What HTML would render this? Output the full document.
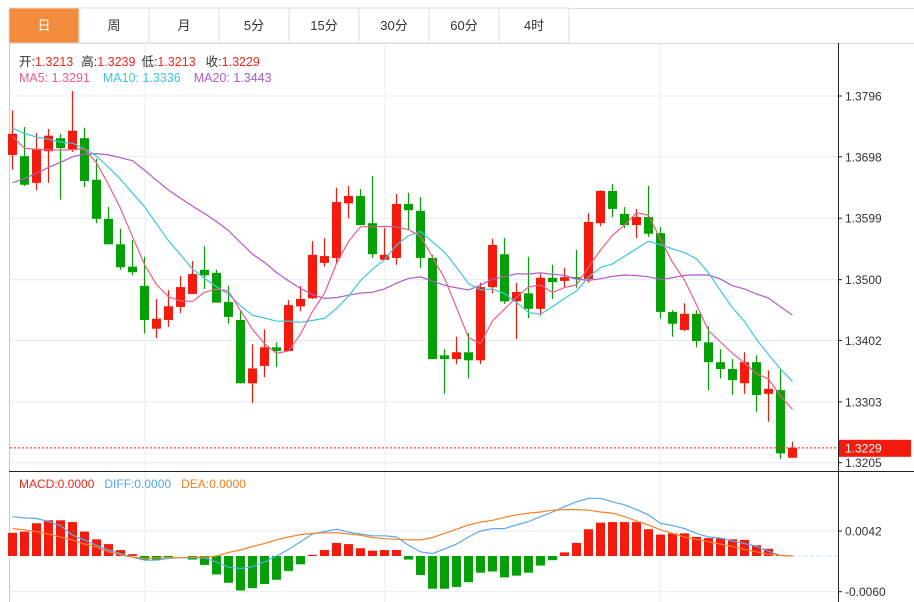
<!DOCTYPE html>
<html><head><meta charset="utf-8">
<style>
html,body{margin:0;padding:0;background:#fff;width:914px;height:602px;overflow:hidden;font-family:"Liberation Sans","Noto Sans CJK SC",sans-serif;}
svg text{font-family:"Liberation Sans","Noto Sans CJK SC",sans-serif;}
</style></head>
<body>
<svg id="chart" width="914" height="602" xmlns="http://www.w3.org/2000/svg">
  <g id="tabs"></g>
  <g id="grid"></g>
  <g id="macdg"></g>
  <g id="candles"></g>
  <g id="mas"></g>
  <g id="axis"></g>
  <g id="legend">
    <text x="19" y="66" font-size="12.5"><tspan fill="#333">开:</tspan><tspan fill="#f0261b">1.3213</tspan><tspan fill="#333" dx="8">高:</tspan><tspan fill="#f0261b">1.3239</tspan><tspan fill="#333" dx="6">低:</tspan><tspan fill="#f0261b">1.3213</tspan><tspan fill="#333" dx="10">收:</tspan><tspan fill="#f0261b">1.3229</tspan></text>
    <text x="19" y="82" font-size="12.5"><tspan fill="#ec5b8a">MA5: 1.3291</tspan><tspan fill="#3ec5dc" dx="13">MA10: 1.3336</tspan><tspan fill="#b35ac8" dx="13">MA20: 1.3443</tspan></text>
    <text x="19" y="488" font-size="12"><tspan fill="#f0261b">MACD:0.0000</tspan><tspan fill="#4ea6ee" dx="10">DIFF:0.0000</tspan><tspan fill="#f57c1f" dx="10">DEA:0.0000</tspan></text>
  </g>
</svg>
<script>
const tabLabels=["日","周","月","5分","15分","30分","60分","4时"];
const priceTicks=[1.3796,1.3698,1.3599,1.3500,1.3402,1.3303,1.3205];
const macdTicks=[0.0042,-0.0060];
const prevCloses=[1.3520,1.3535,1.3550,1.3545,1.3560,1.3575,1.3580,1.3600,1.3610,1.3608,1.3740,1.3765,1.3770,1.3755,1.3760,1.3745,1.3720,1.3735,1.3716];
const opens=[1.3701,1.3699,1.3656,1.3707,1.3728,1.3709,1.3728,1.3661,1.3598,1.3557,1.3521,1.3490,1.3421,1.3435,1.3456,1.3477,1.3516,1.3511,1.3464,1.3435,1.3333,1.3361,1.3391,1.3385,1.3457,1.3470,1.3527,1.3535,1.3623,1.3635,1.3591,1.3532,1.3535,1.3622,1.3611,1.3535,1.3378,1.3372,1.3383,1.3370,1.3488,1.3541,1.3465,1.3478,1.3453,1.3503,1.3498,1.3504,1.3501,1.3591,1.3643,1.3606,1.3588,1.3601,1.3575,1.3448,1.3419,1.3445,1.3399,1.3367,1.3356,1.3333,1.3367,1.3316,1.3322,1.3213];
const highs=[1.3773,1.3746,1.3736,1.3743,1.3735,1.3804,1.3745,1.3695,1.3617,1.3582,1.3564,1.3537,1.3469,1.3483,1.3506,1.3530,1.3554,1.3516,1.3490,1.3451,1.3396,1.3420,1.3399,1.3467,1.3490,1.3562,1.3567,1.3648,1.3651,1.3646,1.3667,1.3583,1.3638,1.3640,1.3633,1.3540,1.3388,1.3408,1.3414,1.3495,1.3566,1.3567,1.3495,1.3537,1.3509,1.3524,1.3519,1.3548,1.3607,1.3644,1.3654,1.3617,1.3614,1.3651,1.3585,1.3451,1.3462,1.3451,1.3425,1.3388,1.3372,1.3383,1.3378,1.3354,1.3356,1.3239];
const lows=[1.3677,1.3651,1.3644,1.3656,1.3629,1.3706,1.3649,1.3591,1.3557,1.3516,1.3507,1.3413,1.3406,1.3424,1.3446,1.3477,1.3485,1.3463,1.3429,1.3333,1.3301,1.3343,1.3359,1.3385,1.3449,1.3469,1.3521,1.3527,1.3599,1.3588,1.3535,1.3532,1.3524,1.3580,1.3519,1.3372,1.3316,1.3364,1.3341,1.3364,1.3478,1.3461,1.3404,1.3438,1.3442,1.3469,1.3487,1.3487,1.3495,1.3586,1.3601,1.3583,1.3567,1.3569,1.3437,1.3408,1.3417,1.3391,1.3322,1.3341,1.3314,1.3316,1.3287,1.3271,1.3211,1.3213];
const closes=[1.3735,1.3653,1.3711,1.3732,1.3712,1.3740,1.3659,1.3598,1.3557,1.3520,1.3512,1.3435,1.3437,1.3457,1.3488,1.3509,1.3507,1.3463,1.3440,1.3333,1.3357,1.3391,1.3385,1.3459,1.3469,1.3540,1.3538,1.3625,1.3635,1.3588,1.3541,1.3540,1.3622,1.3612,1.3535,1.3372,1.3372,1.3383,1.3370,1.3488,1.3556,1.3465,1.3480,1.3453,1.3503,1.3496,1.3504,1.3503,1.3593,1.3643,1.3614,1.3588,1.3601,1.3574,1.3448,1.3429,1.3445,1.3401,1.3367,1.3356,1.3338,1.3367,1.3314,1.3324,1.3220,1.3229];
const macdHist=[0.0039,0.0041,0.0055,0.0060,0.0060,0.0057,0.0041,0.0028,0.0020,0.0010,0.0003,-0.0006,-0.0006,-0.0002,0.0000,-0.0006,-0.0015,-0.0031,-0.0045,-0.0058,-0.0054,-0.0047,-0.0040,-0.0025,-0.0014,0.0002,0.0010,0.0022,0.0020,0.0013,0.0009,0.0010,0.0010,-0.0006,-0.0032,-0.0055,-0.0055,-0.0052,-0.0044,-0.0028,-0.0026,-0.0036,-0.0033,-0.0028,-0.0016,-0.0007,0.0006,0.0022,0.0045,0.0056,0.0057,0.0057,0.0057,0.0045,0.0036,0.0038,0.0038,0.0032,0.0030,0.0030,0.0028,0.0027,0.0018,0.0012,0.0001,0.0000];
const diffVals=[0.0066,0.0064,0.0063,0.0058,0.0051,0.0035,0.0027,0.0018,0.0010,0.0004,-0.0002,-0.0007,-0.0007,-0.0004,-0.0003,-0.0003,-0.0003,-0.0010,-0.0019,-0.0021,-0.0018,-0.0010,0.0000,0.0011,0.0024,0.0037,0.0041,0.0045,0.0040,0.0037,0.0034,0.0034,0.0032,0.0018,0.0007,0.0004,0.0012,0.0020,0.0032,0.0042,0.0046,0.0046,0.0052,0.0058,0.0066,0.0074,0.0083,0.0091,0.0097,0.0097,0.0091,0.0086,0.0078,0.0069,0.0055,0.0051,0.0046,0.0038,0.0032,0.0030,0.0025,0.0021,0.0016,0.0008,0.0001,0.0000];
const deaVals=[0.0046,0.0044,0.0041,0.0037,0.0032,0.0027,0.0020,0.0015,0.0007,0.0002,-0.0002,-0.0004,-0.0003,-0.0003,-0.0003,-0.0002,-0.0002,0.0000,0.0006,0.0010,0.0016,0.0021,0.0027,0.0032,0.0036,0.0038,0.0039,0.0039,0.0037,0.0035,0.0031,0.0029,0.0028,0.0027,0.0027,0.0031,0.0038,0.0045,0.0052,0.0057,0.0060,0.0065,0.0069,0.0072,0.0074,0.0077,0.0078,0.0078,0.0077,0.0074,0.0072,0.0066,0.0059,0.0052,0.0044,0.0038,0.0032,0.0028,0.0024,0.0020,0.0016,0.0011,0.0007,0.0003,0.0001,0.0000];
const lastPrice=1.3229;

const NS="http://www.w3.org/2000/svg";
function mk(tag,attrs,parent){const e=document.createElementNS(NS,tag);for(const k in attrs)e.setAttribute(k,attrs[k]);parent.appendChild(e);return e;}
const xOf=i=>12.5+12*i;
const yP=p=>96+(1.3796-p)*6205;
const yM=v=>556-v*5952;
const AX=838;

// tabs
const tabs=document.getElementById('tabs');
mk('line',{x1:9,y1:8.5,x2:914,y2:8.5,stroke:'#ddd'},tabs);
mk('line',{x1:9,y1:43.5,x2:914,y2:43.5,stroke:'#ddd'},tabs);
tabLabels.forEach((t,i)=>{
  const x=9+70*i;
  const r=mk('rect',{x:x,y:8,width:70,height:35,fill:i===0?'#f28c3c':'#fff',stroke:'#ddd'},tabs);
  
  
  const tx=mk('text',{x:x+35,y:30,'text-anchor':'middle','font-size':13,fill:i===0?'#fff':'#333'},tabs);
  tx.textContent=t;
  
  
});

// grid
const grid=document.getElementById('grid');
mk('line',{x1:9.5,y1:43,x2:9.5,y2:602,stroke:'#ccc'},grid);
[145,385,660].forEach(x=>{const l=mk('line',{x1:x,y1:43,x2:x,y2:602,stroke:'#e3ecf4'},grid);
  
  });
priceTicks.forEach(p=>{const l=mk('line',{x1:10,y1:yP(p),x2:AX,y2:yP(p),stroke:'#e3ecf4'},grid);
  
  });
mk('line',{x1:10,y1:yM(0.0042),x2:AX,y2:yM(0.0042),stroke:'#e3ecf4'},grid);
mk('line',{x1:10,y1:yM(-0.006),x2:AX,y2:yM(-0.006),stroke:'#e3ecf4'},grid);
mk('line',{x1:9,y1:471.5,x2:914,y2:471.5,stroke:'#222'},grid);

// candles
const cg=document.getElementById('candles');
opens.forEach((o,i)=>{
  const c=closes[i],up=c>=o,col=up?'#f21b0d':'#05a005',x=xOf(i);
  const w=mk('line',{x1:x,y1:yP(highs[i]),x2:x,y2:yP(lows[i]),stroke:col,'stroke-width':1.2},cg);
  
  
  const top=yP(Math.max(o,c)),bot=yP(Math.min(o,c));
  const b=mk('rect',{x:x-4.5,y:top,width:9,height:Math.max(1.5,bot-top),fill:col},cg);
  
  
});

// moving averages
const all=prevCloses.concat(closes),off=prevCloses.length;
function maPts(n){const pts=[];for(let i=0;i<closes.length;i++){const k=i+off;let s=0,c=0;for(let j=Math.max(0,k-n+1);j<=k;j++){s+=all[j];c++;}pts.push(xOf(i)+','+yP(s/c).toFixed(1));}return pts.join(' ');}
const mas=document.getElementById('mas');
[[20,'#b35ac8','ma20-line'],[10,'#3ec5dc','ma10-line'],[5,'#ec5b8a','ma5-line']].forEach(([n,col,name])=>{
  const pl=mk('polyline',{points:maPts(n),fill:'none',stroke:col,'stroke-width':1.2},mas);
  
  
});
const lp=mk('line',{x1:10,y1:yP(lastPrice),x2:AX,y2:yP(lastPrice),stroke:'#f21b0d','stroke-dasharray':'2,2'},mas);



// macd
const mg=document.getElementById('macdg');
macdHist.forEach((v,i)=>{
  if(v===0)return;
  const y0=yM(0),y1=yM(v);
  const r=mk('rect',{x:xOf(i)-4.5,y:Math.min(y0,y1),width:9,height:Math.abs(y1-y0),fill:v>0?'#f21b0d':'#05a005'},mg);
  
  
});
const zl=mk('line',{x1:xOf(macdHist.length-1),y1:yM(0),x2:AX,y2:yM(0),stroke:'#a9d8ee','stroke-dasharray':'3,3'},mg);


const dl=mk('polyline',{points:diffVals.map((v,i)=>xOf(i)+','+yM(v).toFixed(1)).join(' '),fill:'none',stroke:'#5aa9f0','stroke-width':1.2},mg);


const el=mk('polyline',{points:deaVals.map((v,i)=>xOf(i)+','+yM(v).toFixed(1)).join(' '),fill:'none',stroke:'#f6822a','stroke-width':1.2},mg);



// axis
const ax=document.getElementById('axis');
mk('line',{x1:AX+0.5,y1:43,x2:AX+0.5,y2:602,stroke:'#222'},ax);
priceTicks.forEach(p=>{
  const y=yP(p);
  mk('line',{x1:AX,y1:y,x2:AX+4,y2:y,stroke:'#222'},ax);
  const t=mk('text',{x:AX+7,y:y+4.5,'font-size':12,fill:'#333'},ax);
  t.textContent=p.toFixed(4);
  
  
});
macdTicks.forEach(v=>{
  const y=yM(v);
  mk('line',{x1:AX,y1:y,x2:AX+4,y2:y,stroke:'#222'},ax);
  const t=mk('text',{x:AX+7,y:y+4.5,'font-size':12,fill:'#333'},ax);
  t.textContent=v.toFixed(4);
  
  
});
const yl=yP(lastPrice);
const box=mk('rect',{x:AX+1,y:yl-8,width:72,height:17,fill:'#f21b0d'},ax);


const bt=mk('text',{x:AX+7,y:yl+4.5,'font-size':12,fill:'#fff'},ax);
bt.textContent='1.3229';


</script>
</body></html>
